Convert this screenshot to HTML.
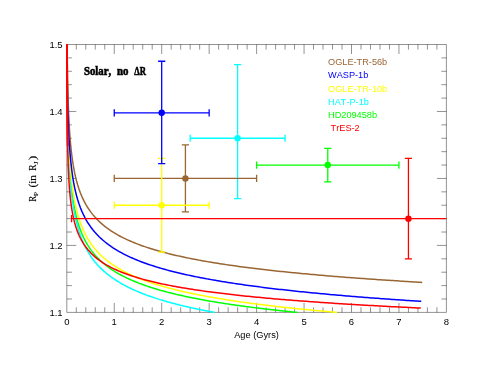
<!DOCTYPE html>
<html><head><meta charset="utf-8"><title>Radius vs Age</title>
<style>html,body{margin:0;padding:0;background:#fff;}svg{display:block;will-change:transform;}text{font-family:"Liberation Sans",sans-serif;font-kerning:none;}.ser text{font-family:"Liberation Serif",serif;}</style></head><body>
<svg width="491" height="379" viewBox="0 0 491 379">
<rect width="491" height="379" fill="#fff"/>
<defs><clipPath id="c"><rect x="63.80" y="43.90" width="382.60" height="270.50"/></clipPath></defs>
<path d="M66.80 44.50H446.40V312.40H66.80ZM76.29 312.40v-5.10M76.29 44.50v5.10M85.78 312.40v-5.10M85.78 44.50v5.10M95.27 312.40v-5.10M95.27 44.50v5.10M104.76 312.40v-5.10M104.76 44.50v5.10M114.25 312.40v-9.50M114.25 44.50v9.50M123.74 312.40v-5.10M123.74 44.50v5.10M133.23 312.40v-5.10M133.23 44.50v5.10M142.72 312.40v-5.10M142.72 44.50v5.10M152.21 312.40v-5.10M152.21 44.50v5.10M161.70 312.40v-9.50M161.70 44.50v9.50M171.19 312.40v-5.10M171.19 44.50v5.10M180.68 312.40v-5.10M180.68 44.50v5.10M190.17 312.40v-5.10M190.17 44.50v5.10M199.66 312.40v-5.10M199.66 44.50v5.10M209.15 312.40v-9.50M209.15 44.50v9.50M218.64 312.40v-5.10M218.64 44.50v5.10M228.13 312.40v-5.10M228.13 44.50v5.10M237.62 312.40v-5.10M237.62 44.50v5.10M247.11 312.40v-5.10M247.11 44.50v5.10M256.60 312.40v-9.50M256.60 44.50v9.50M266.09 312.40v-5.10M266.09 44.50v5.10M275.58 312.40v-5.10M275.58 44.50v5.10M285.07 312.40v-5.10M285.07 44.50v5.10M294.56 312.40v-5.10M294.56 44.50v5.10M304.05 312.40v-9.50M304.05 44.50v9.50M313.54 312.40v-5.10M313.54 44.50v5.10M323.03 312.40v-5.10M323.03 44.50v5.10M332.52 312.40v-5.10M332.52 44.50v5.10M342.01 312.40v-5.10M342.01 44.50v5.10M351.50 312.40v-9.50M351.50 44.50v9.50M360.99 312.40v-5.10M360.99 44.50v5.10M370.48 312.40v-5.10M370.48 44.50v5.10M379.97 312.40v-5.10M379.97 44.50v5.10M389.46 312.40v-5.10M389.46 44.50v5.10M398.95 312.40v-9.50M398.95 44.50v9.50M408.44 312.40v-5.10M408.44 44.50v5.10M417.93 312.40v-5.10M417.93 44.50v5.10M427.42 312.40v-5.10M427.42 44.50v5.10M436.91 312.40v-5.10M436.91 44.50v5.10M66.80 299.00h5.10M446.40 299.00h-5.10M66.80 285.61h5.10M446.40 285.61h-5.10M66.80 272.21h5.10M446.40 272.21h-5.10M66.80 258.82h5.10M446.40 258.82h-5.10M66.80 245.42h9.50M446.40 245.42h-9.50M66.80 232.03h5.10M446.40 232.03h-5.10M66.80 218.63h5.10M446.40 218.63h-5.10M66.80 205.24h5.10M446.40 205.24h-5.10M66.80 191.85h5.10M446.40 191.85h-5.10M66.80 178.45h9.50M446.40 178.45h-9.50M66.80 165.06h5.10M446.40 165.06h-5.10M66.80 151.66h5.10M446.40 151.66h-5.10M66.80 138.27h5.10M446.40 138.27h-5.10M66.80 124.87h5.10M446.40 124.87h-5.10M66.80 111.47h9.50M446.40 111.47h-9.50M66.80 98.08h5.10M446.40 98.08h-5.10M66.80 84.68h5.10M446.40 84.68h-5.10M66.80 71.29h5.10M446.40 71.29h-5.10M66.80 57.90h5.10M446.40 57.90h-5.10" fill="none" stroke="#000" stroke-width="0.65" stroke-opacity="0.66"/>
<text transform="translate(66.80,325.10) scale(1,0.940)" font-size="9.50" text-anchor="middle" fill="#000">0</text>
<text transform="translate(114.25,325.10) scale(1,0.940)" font-size="9.50" text-anchor="middle" fill="#000">1</text>
<text transform="translate(161.70,325.10) scale(1,0.940)" font-size="9.50" text-anchor="middle" fill="#000">2</text>
<text transform="translate(209.15,325.10) scale(1,0.940)" font-size="9.50" text-anchor="middle" fill="#000">3</text>
<text transform="translate(256.60,325.10) scale(1,0.940)" font-size="9.50" text-anchor="middle" fill="#000">4</text>
<text transform="translate(304.05,325.10) scale(1,0.940)" font-size="9.50" text-anchor="middle" fill="#000">5</text>
<text transform="translate(351.50,325.10) scale(1,0.940)" font-size="9.50" text-anchor="middle" fill="#000">6</text>
<text transform="translate(398.95,325.10) scale(1,0.940)" font-size="9.50" text-anchor="middle" fill="#000">7</text>
<text transform="translate(446.40,325.10) scale(1,0.940)" font-size="9.50" text-anchor="middle" fill="#000">8</text>
<text transform="translate(62.60,315.80) scale(1,0.940)" font-size="9.50" text-anchor="end" fill="#000">1.1</text>
<text transform="translate(62.60,248.82) scale(1,0.940)" font-size="9.50" text-anchor="end" fill="#000">1.2</text>
<text transform="translate(62.60,181.85) scale(1,0.940)" font-size="9.50" text-anchor="end" fill="#000">1.3</text>
<text transform="translate(62.60,114.88) scale(1,0.940)" font-size="9.50" text-anchor="end" fill="#000">1.4</text>
<text transform="translate(62.60,47.90) scale(1,0.940)" font-size="9.50" text-anchor="end" fill="#000">1.5</text>
<text transform="translate(256.50,337.50) scale(1,1.000)" font-size="9.25" text-anchor="middle" fill="#000">Age (Gyrs)</text>
<g class="ser" transform="translate(35.5,0) rotate(-90)" fill="#000" stroke="#000" stroke-width="0.15">
<text x="-201.7" y="0" font-size="9.6" textLength="5.9" lengthAdjust="spacingAndGlyphs">R</text>
<text x="-195.9" y="2.1" font-size="6.8" textLength="4.0" lengthAdjust="spacingAndGlyphs">P</text>
<text x="-187.5" y="0" font-size="9.6" textLength="12.4" lengthAdjust="spacingAndGlyphs">(in</text>
<text x="-170.7" y="0" font-size="9.6" textLength="6.3" lengthAdjust="spacingAndGlyphs">R</text>
<text x="-164.3" y="2.1" font-size="6.8" textLength="2.9" lengthAdjust="spacingAndGlyphs">J</text>
<text x="-160.3" y="0" font-size="9.8" textLength="4.6" lengthAdjust="spacingAndGlyphs">)</text>
</g>
<g class="ser" font-size="12.6" font-weight="bold" fill="#000" stroke="#000" stroke-width="0.6">
<text x="83.9" y="74.8" textLength="27.3" lengthAdjust="spacingAndGlyphs">Solar,</text>
<text x="116.9" y="74.8" textLength="11.5" lengthAdjust="spacingAndGlyphs">no</text>
<text x="134.3" y="74.8" textLength="11.7" lengthAdjust="spacingAndGlyphs">ΔR</text>
</g>
<g clip-path="url(#c)" fill="none" stroke-width="1.5" stroke-linejoin="round">
<polyline points="66.80,-2.51 66.80,-2.51 66.80,-2.51 66.80,-2.51 66.80,-2.51 66.80,-2.51 66.80,-2.51 66.80,-2.51 66.80,-2.51 66.80,-2.51 66.80,-2.51 66.80,-2.51 66.80,-2.51 66.80,-2.50 66.80,-2.50 66.80,-2.50 66.80,-2.50 66.80,-2.50 66.80,-2.50 66.80,-2.50 66.80,-2.50 66.80,-2.49 66.80,-2.49 66.80,-2.49 66.80,-2.49 66.80,-2.48 66.80,-2.48 66.80,-2.47 66.80,-2.47 66.80,-2.47 66.80,-2.46 66.80,-2.45 66.80,-2.45 66.80,-2.44 66.80,-2.43 66.80,-2.42 66.80,-2.41 66.80,-2.40 66.80,-2.38 66.80,-2.37 66.80,-2.35 66.80,-2.33 66.80,-2.31 66.80,-2.29 66.80,-2.26 66.80,-2.23 66.80,-2.20 66.80,-2.16 66.80,-2.12 66.80,-2.07 66.80,-2.02 66.80,-1.97 66.80,-1.90 66.80,-1.83 66.80,-1.75 66.80,-1.66 66.80,-1.56 66.80,-1.45 66.80,-1.33 66.80,-1.19 66.80,-1.04 66.80,-0.87 66.80,-0.68 66.81,-0.47 66.81,-0.23 66.81,0.03 66.81,0.32 66.81,0.65 66.81,1.01 66.81,1.41 66.81,1.86 66.81,2.35 66.81,2.90 66.82,3.51 66.82,4.18 66.82,4.92 66.82,5.74 66.82,6.64 66.83,7.63 66.83,8.72 66.83,9.92 66.84,11.24 66.84,12.67 66.85,14.24 66.85,15.94 66.86,17.80 66.87,19.80 66.87,21.97 66.88,24.31 66.89,26.81 66.90,29.50 66.92,32.37 66.93,35.42 66.94,38.65 66.96,42.07 66.98,45.66 67.00,49.44 67.02,53.38 67.05,57.48 67.08,61.74 67.11,66.15 67.15,70.69 67.19,75.36 67.24,80.13 67.29,85.00 67.35,89.96 67.41,95.00 67.48,100.09 67.56,105.23 67.65,110.41 67.75,115.61 67.86,120.82 67.99,126.04 68.12,131.26 68.28,136.46 68.45,141.64 68.65,146.79 68.87,151.91 69.11,156.98 69.38,162.01 69.68,166.99 70.02,171.92 70.40,176.78 70.82,181.59 71.29,186.34 71.82,191.02 72.41,195.64 73.06,200.18 73.80,204.66 74.62,209.07 75.54,213.42 76.56,217.69 77.71,221.89 78.99,226.02 80.42,230.09 82.02,234.08 83.81,238.01 85.80,241.87 88.03,245.66 90.52,249.38 91.83,251.15 93.13,252.81 94.43,254.38 95.73,255.87 97.03,257.28 98.33,258.62 99.63,259.90 100.93,261.12 102.23,262.29 103.54,263.41 104.84,264.49 106.14,265.52 107.44,266.51 108.74,267.47 110.04,268.40 111.34,269.29 112.64,270.15 113.94,270.98 115.25,271.79 116.55,272.57 117.85,273.33 119.15,274.07 120.45,274.78 121.75,275.48 123.05,276.15 124.35,276.81 125.65,277.45 126.96,278.08 128.26,278.69 129.56,279.28 130.86,279.86 132.16,280.43 133.46,280.98 134.76,281.53 136.06,282.05 137.36,282.57 138.67,283.08 139.97,283.58 141.27,284.06 142.57,284.54 143.87,285.00 145.17,285.46 146.47,285.91 147.77,286.35 149.07,286.78 150.38,287.21 151.68,287.62 152.98,288.03 154.28,288.44 155.58,288.83 156.88,289.22 158.18,289.60 159.48,289.98 160.78,290.35 162.09,290.71 163.39,291.07 164.69,291.42 165.99,291.77 167.29,292.11 168.59,292.45 169.89,292.78 171.19,293.10 172.49,293.43 173.80,293.74 175.10,294.06 176.40,294.36 177.70,294.67 179.00,294.97 180.30,295.26 181.60,295.56 182.90,295.84 184.20,296.13 185.51,296.41 186.81,296.69 188.11,296.96 189.41,297.23 190.71,297.50 192.01,297.76 193.31,298.02 194.61,298.28 195.91,298.53 197.22,298.79 198.52,299.03 199.82,299.28 201.12,299.52 202.42,299.76 203.72,300.00 205.02,300.24 206.32,300.47 207.62,300.70 208.93,300.92 210.23,301.15 211.53,301.37 212.83,301.59 214.13,301.81 215.43,302.03 216.73,302.24 218.03,302.45 219.33,302.66 220.64,302.87 221.94,303.07 223.24,303.28 224.54,303.48 225.84,303.68 227.14,303.87 228.44,304.07 229.74,304.26 231.04,304.45 232.34,304.64 233.65,304.83 234.95,305.02 236.25,305.20 237.55,305.39 238.85,305.57 240.15,305.75 241.45,305.93 242.75,306.10 244.05,306.28 245.36,306.45 246.66,306.63 247.96,306.80 249.26,306.97 250.56,307.13 251.86,307.30 253.16,307.47 254.46,307.63 255.76,307.79 257.07,307.95 258.37,308.11 259.67,308.27 260.97,308.43 262.27,308.59 263.57,308.74 264.87,308.90 266.17,309.05 267.47,309.20 268.78,309.35 270.08,309.50 271.38,309.65 272.68,309.80 273.98,309.94 275.28,310.09 276.58,310.23 277.88,310.37 279.18,310.51 280.49,310.66 281.79,310.80 283.09,310.93 284.39,311.07 285.69,311.21 286.99,311.35 288.29,311.48 289.59,311.61 290.89,311.75 292.20,311.88 293.50,312.01 294.80,312.14 296.10,312.27 297.40,312.40" stroke="#00ff00"/>
<polyline points="66.80,64.65 66.80,64.65 66.80,64.65 66.80,64.65 66.80,64.65 66.80,64.65 66.80,64.65 66.80,64.65 66.80,64.65 66.80,64.65 66.80,64.65 66.80,64.65 66.80,64.65 66.80,64.65 66.80,64.65 66.80,64.65 66.80,64.65 66.80,64.65 66.80,64.65 66.80,64.65 66.80,64.65 66.80,64.65 66.80,64.65 66.80,64.65 66.80,64.65 66.80,64.65 66.80,64.66 66.80,64.66 66.80,64.66 66.80,64.66 66.80,64.66 66.80,64.66 66.80,64.67 66.80,64.67 66.80,64.67 66.80,64.67 66.80,64.68 66.80,64.68 66.80,64.69 66.80,64.69 66.80,64.70 66.80,64.70 66.80,64.71 66.80,64.72 66.80,64.72 66.80,64.73 66.80,64.74 66.80,64.76 66.80,64.77 66.80,64.78 66.80,64.80 66.80,64.82 66.80,64.84 66.80,64.86 66.80,64.89 66.80,64.91 66.80,64.95 66.80,64.98 66.80,65.02 66.80,65.06 66.80,65.11 66.80,65.17 66.80,65.23 66.81,65.30 66.81,65.37 66.81,65.46 66.81,65.55 66.81,65.66 66.81,65.77 66.81,65.91 66.81,66.05 66.81,66.21 66.81,66.40 66.82,66.60 66.82,66.82 66.82,67.07 66.82,67.35 66.82,67.66 66.83,68.01 66.83,68.39 66.83,68.81 66.84,69.28 66.84,69.80 66.85,70.38 66.85,71.01 66.86,71.72 66.87,72.49 66.87,73.35 66.88,74.29 66.89,75.32 66.90,76.45 66.92,77.68 66.93,79.03 66.94,80.51 66.96,82.10 66.98,83.84 67.00,85.71 67.02,87.73 67.05,89.91 67.08,92.24 67.11,94.73 67.15,97.38 67.19,100.19 67.24,103.17 67.29,106.30 67.35,109.60 67.41,113.05 67.48,116.64 67.56,120.38 67.65,124.24 67.75,128.24 67.86,132.34 67.99,136.55 68.12,140.85 68.28,145.23 68.45,149.69 68.65,154.20 68.87,158.76 69.11,163.35 69.38,167.98 69.68,172.62 70.02,177.28 70.40,181.93 70.82,186.58 71.29,191.21 71.82,195.82 72.41,200.40 73.06,204.96 73.80,209.47 74.62,213.95 75.54,218.38 76.56,222.76 77.71,227.10 78.99,231.38 80.42,235.61 82.02,239.78 83.81,243.90 85.80,247.96 88.03,251.96 90.52,255.90 91.31,257.04 92.09,258.13 92.87,259.19 93.65,260.22 94.43,261.21 95.21,262.17 95.99,263.10 96.77,264.00 97.55,264.88 98.33,265.73 99.12,266.55 99.90,267.36 100.68,268.14 101.46,268.90 102.24,269.65 103.02,270.37 103.80,271.08 104.58,271.77 105.36,272.44 106.14,273.10 106.93,273.74 107.71,274.37 108.49,274.99 109.27,275.59 110.05,276.18 110.83,276.76 111.61,277.32 112.39,277.88 113.17,278.42 113.95,278.95 114.74,279.48 115.52,279.99 116.30,280.50 117.08,280.99 117.86,281.48 118.64,281.95 119.42,282.42 120.20,282.89 120.98,283.34 121.76,283.79 122.54,284.23 123.33,284.66 124.11,285.08 124.89,285.50 125.67,285.92 126.45,286.32 127.23,286.72 128.01,287.12 128.79,287.50 129.57,287.89 130.35,288.26 131.14,288.64 131.92,289.00 132.70,289.37 133.48,289.72 134.26,290.07 135.04,290.42 135.82,290.77 136.60,291.10 137.38,291.44 138.16,291.77 138.95,292.09 139.73,292.42 140.51,292.73 141.29,293.05 142.07,293.36 142.85,293.66 143.63,293.97 144.41,294.27 145.19,294.56 145.97,294.85 146.76,295.14 147.54,295.43 148.32,295.71 149.10,295.99 149.88,296.27 150.66,296.54 151.44,296.81 152.22,297.08 153.00,297.34 153.78,297.61 154.56,297.87 155.35,298.12 156.13,298.38 156.91,298.63 157.69,298.88 158.47,299.12 159.25,299.37 160.03,299.61 160.81,299.85 161.59,300.09 162.37,300.32 163.16,300.55 163.94,300.79 164.72,301.01 165.50,301.24 166.28,301.46 167.06,301.69 167.84,301.91 168.62,302.13 169.40,302.34 170.18,302.56 170.97,302.77 171.75,302.98 172.53,303.19 173.31,303.40 174.09,303.60 174.87,303.81 175.65,304.01 176.43,304.21 177.21,304.41 177.99,304.60 178.78,304.80 179.56,304.99 180.34,305.19 181.12,305.38 181.90,305.57 182.68,305.75 183.46,305.94 184.24,306.13 185.02,306.31 185.80,306.49 186.58,306.67 187.37,306.85 188.15,307.03 188.93,307.21 189.71,307.38 190.49,307.56 191.27,307.73 192.05,307.90 192.83,308.07 193.61,308.24 194.39,308.41 195.18,308.57 195.96,308.74 196.74,308.90 197.52,309.07 198.30,309.23 199.08,309.39 199.86,309.55 200.64,309.71 201.42,309.87 202.20,310.02 202.99,310.18 203.77,310.34 204.55,310.49 205.33,310.64 206.11,310.79 206.89,310.94 207.67,311.09 208.45,311.24 209.23,311.39 210.01,311.54 210.80,311.68 211.58,311.83 212.36,311.97 213.14,312.12 213.92,312.26 214.70,312.40" stroke="#00ffff"/>
<polyline points="66.80,-4.07 66.80,-4.07 66.80,-4.06 66.80,-4.06 66.80,-4.06 66.80,-4.06 66.80,-4.06 66.80,-4.06 66.80,-4.06 66.80,-4.06 66.80,-4.06 66.80,-4.06 66.80,-4.06 66.80,-4.06 66.80,-4.06 66.80,-4.06 66.80,-4.06 66.80,-4.06 66.80,-4.06 66.80,-4.06 66.80,-4.06 66.80,-4.05 66.80,-4.05 66.80,-4.05 66.80,-4.05 66.80,-4.05 66.80,-4.05 66.80,-4.04 66.80,-4.04 66.80,-4.04 66.80,-4.03 66.80,-4.03 66.80,-4.03 66.80,-4.02 66.80,-4.02 66.80,-4.01 66.80,-4.00 66.80,-4.00 66.80,-3.99 66.80,-3.98 66.80,-3.97 66.80,-3.96 66.80,-3.94 66.80,-3.93 66.80,-3.91 66.80,-3.90 66.80,-3.88 66.80,-3.85 66.80,-3.83 66.80,-3.80 66.80,-3.77 66.80,-3.74 66.80,-3.70 66.80,-3.65 66.80,-3.61 66.80,-3.55 66.80,-3.49 66.80,-3.43 66.80,-3.35 66.80,-3.27 66.80,-3.18 66.80,-3.07 66.80,-2.96 66.81,-2.83 66.81,-2.68 66.81,-2.52 66.81,-2.34 66.81,-2.15 66.81,-1.92 66.81,-1.68 66.81,-1.40 66.81,-1.10 66.81,-0.76 66.82,-0.38 66.82,0.03 66.82,0.50 66.82,1.01 66.82,1.58 66.83,2.20 66.83,2.90 66.83,3.66 66.84,4.51 66.84,5.44 66.85,6.46 66.85,7.57 66.86,8.80 66.87,10.14 66.87,11.60 66.88,13.18 66.89,14.90 66.90,16.77 66.92,18.78 66.93,20.95 66.94,23.27 66.96,25.76 66.98,28.41 67.00,31.22 67.02,34.21 67.05,37.35 67.08,40.66 67.11,44.13 67.15,47.75 67.19,51.52 67.24,55.42 67.29,59.45 67.35,63.60 67.41,67.86 67.48,72.22 67.56,76.66 67.65,81.17 67.75,85.75 67.86,90.38 67.99,95.05 68.12,99.75 68.28,104.47 68.45,109.20 68.65,113.94 68.87,118.66 69.11,123.37 69.38,128.06 69.68,132.72 70.02,137.35 70.40,141.95 70.82,146.49 71.29,151.00 71.82,155.45 72.41,159.85 73.06,164.20 73.80,168.49 74.62,172.72 75.54,176.90 76.56,181.01 77.71,185.06 78.99,189.05 80.42,192.97 82.02,196.84 83.81,200.64 85.80,204.38 88.03,208.05 90.52,211.66 92.61,214.37 94.70,216.83 96.78,219.09 98.87,221.17 100.96,223.10 103.04,224.90 105.13,226.58 107.21,228.16 109.30,229.65 111.39,231.05 113.47,232.38 115.56,233.64 117.64,234.85 119.73,235.99 121.82,237.09 123.90,238.13 125.99,239.14 128.07,240.10 130.16,241.03 132.25,241.92 134.33,242.78 136.42,243.61 138.50,244.41 140.59,245.18 142.68,245.93 144.76,246.65 146.85,247.35 148.93,248.04 151.02,248.70 153.11,249.34 155.19,249.96 157.28,250.57 159.36,251.16 161.45,251.74 163.54,252.30 165.62,252.85 167.71,253.38 169.79,253.91 171.88,254.42 173.97,254.91 176.05,255.40 178.14,255.88 180.22,256.34 182.31,256.80 184.40,257.24 186.48,257.68 188.57,258.11 190.65,258.53 192.74,258.94 194.83,259.35 196.91,259.74 199.00,260.13 201.08,260.51 203.17,260.89 205.26,261.26 207.34,261.62 209.43,261.97 211.51,262.32 213.60,262.67 215.69,263.01 217.77,263.34 219.86,263.67 221.94,263.99 224.03,264.31 226.12,264.62 228.20,264.93 230.29,265.23 232.37,265.53 234.46,265.82 236.55,266.11 238.63,266.40 240.72,266.68 242.80,266.96 244.89,267.23 246.98,267.50 249.06,267.77 251.15,268.03 253.23,268.29 255.32,268.55 257.41,268.80 259.49,269.05 261.58,269.30 263.66,269.54 265.75,269.78 267.84,270.02 269.92,270.26 272.01,270.49 274.09,270.72 276.18,270.94 278.27,271.17 280.35,271.39 282.44,271.61 284.52,271.82 286.61,272.04 288.70,272.25 290.78,272.46 292.87,272.67 294.95,272.87 297.04,273.07 299.13,273.28 301.21,273.47 303.30,273.67 305.38,273.86 307.47,274.06 309.56,274.25 311.64,274.44 313.73,274.62 315.81,274.81 317.90,274.99 319.99,275.17 322.07,275.35 324.16,275.53 326.24,275.71 328.33,275.88 330.42,276.05 332.50,276.23 334.59,276.40 336.67,276.56 338.76,276.73 340.85,276.90 342.93,277.06 345.02,277.22 347.10,277.38 349.19,277.54 351.28,277.70 353.36,277.86 355.45,278.01 357.53,278.17 359.62,278.32 361.71,278.47 363.79,278.62 365.88,278.77 367.96,278.92 370.05,279.07 372.14,279.21 374.22,279.36 376.31,279.50 378.39,279.64 380.48,279.78 382.57,279.92 384.65,280.06 386.74,280.20 388.82,280.34 390.91,280.47 393.00,280.61 395.08,280.74 397.17,280.87 399.25,281.01 401.34,281.14 403.43,281.27 405.51,281.40 407.60,281.52 409.68,281.65 411.77,281.78 413.86,281.90 415.94,282.03 418.03,282.15 420.11,282.27 422.20,282.40" stroke="#996633"/>
<polyline points="66.80,6.46 66.80,6.46 66.80,6.46 66.80,6.46 66.80,6.46 66.80,6.46 66.80,6.46 66.80,6.46 66.80,6.46 66.80,6.46 66.80,6.46 66.80,6.46 66.80,6.46 66.80,6.46 66.80,6.46 66.80,6.46 66.80,6.46 66.80,6.46 66.80,6.46 66.80,6.47 66.80,6.47 66.80,6.47 66.80,6.47 66.80,6.47 66.80,6.47 66.80,6.48 66.80,6.48 66.80,6.48 66.80,6.48 66.80,6.49 66.80,6.49 66.80,6.50 66.80,6.50 66.80,6.51 66.80,6.51 66.80,6.52 66.80,6.52 66.80,6.53 66.80,6.54 66.80,6.55 66.80,6.56 66.80,6.58 66.80,6.59 66.80,6.61 66.80,6.62 66.80,6.64 66.80,6.67 66.80,6.69 66.80,6.72 66.80,6.75 66.80,6.78 66.80,6.82 66.80,6.86 66.80,6.91 66.80,6.97 66.80,7.03 66.80,7.09 66.80,7.17 66.80,7.25 66.80,7.34 66.80,7.45 66.80,7.56 66.80,7.69 66.81,7.83 66.81,7.99 66.81,8.17 66.81,8.37 66.81,8.59 66.81,8.84 66.81,9.11 66.81,9.41 66.81,9.75 66.81,10.13 66.82,10.55 66.82,11.01 66.82,11.52 66.82,12.09 66.82,12.72 66.83,13.42 66.83,14.19 66.83,15.04 66.84,15.98 66.84,17.01 66.85,18.14 66.85,19.38 66.86,20.74 66.87,22.23 66.87,23.85 66.88,25.61 66.89,27.52 66.90,29.58 66.92,31.81 66.93,34.22 66.94,36.79 66.96,39.55 66.98,42.48 67.00,45.60 67.02,48.90 67.05,52.38 67.08,56.05 67.11,59.88 67.15,63.88 67.19,68.04 67.24,72.35 67.29,76.80 67.35,81.38 67.41,86.08 67.48,90.88 67.56,95.77 67.65,100.74 67.75,105.78 67.86,110.87 67.99,116.00 68.12,121.17 68.28,126.35 68.45,131.54 68.65,136.72 68.87,141.90 69.11,147.06 69.38,152.19 69.68,157.28 70.02,162.34 70.40,167.35 70.82,172.32 71.29,177.22 71.82,182.08 72.41,186.87 73.06,191.60 73.80,196.26 74.62,200.86 75.54,205.39 76.56,209.84 77.71,214.23 78.99,218.55 80.42,222.80 82.02,226.98 83.81,231.08 85.80,235.12 88.03,239.08 90.52,242.98 92.08,245.17 93.63,247.21 95.18,249.12 96.73,250.91 98.28,252.59 99.83,254.18 101.38,255.69 102.93,257.12 104.48,258.48 106.03,259.77 107.58,261.01 109.13,262.19 110.69,263.33 112.24,264.41 113.79,265.46 115.34,266.47 116.89,267.43 118.44,268.37 119.99,269.27 121.54,270.14 123.09,270.99 124.64,271.80 126.19,272.59 127.74,273.36 129.29,274.11 130.85,274.83 132.40,275.53 133.95,276.22 135.50,276.88 137.05,277.53 138.60,278.17 140.15,278.78 141.70,279.38 143.25,279.97 144.80,280.54 146.35,281.10 147.90,281.65 149.45,282.19 151.01,282.71 152.56,283.22 154.11,283.72 155.66,284.21 157.21,284.70 158.76,285.17 160.31,285.63 161.86,286.08 163.41,286.53 164.96,286.96 166.51,287.39 168.06,287.81 169.62,288.23 171.17,288.63 172.72,289.03 174.27,289.42 175.82,289.81 177.37,290.19 178.92,290.56 180.47,290.93 182.02,291.29 183.57,291.65 185.12,292.00 186.67,292.34 188.22,292.68 189.78,293.02 191.33,293.35 192.88,293.67 194.43,293.99 195.98,294.31 197.53,294.62 199.08,294.93 200.63,295.23 202.18,295.53 203.73,295.82 205.28,296.11 206.83,296.40 208.38,296.68 209.94,296.96 211.49,297.24 213.04,297.51 214.59,297.78 216.14,298.05 217.69,298.31 219.24,298.57 220.79,298.83 222.34,299.08 223.89,299.33 225.44,299.58 226.99,299.82 228.54,300.06 230.10,300.30 231.65,300.54 233.20,300.78 234.75,301.01 236.30,301.24 237.85,301.46 239.40,301.69 240.95,301.91 242.50,302.13 244.05,302.35 245.60,302.56 247.15,302.77 248.71,302.98 250.26,303.19 251.81,303.40 253.36,303.60 254.91,303.81 256.46,304.01 258.01,304.21 259.56,304.40 261.11,304.60 262.66,304.79 264.21,304.98 265.76,305.17 267.31,305.36 268.87,305.55 270.42,305.73 271.97,305.91 273.52,306.10 275.07,306.28 276.62,306.45 278.17,306.63 279.72,306.81 281.27,306.98 282.82,307.15 284.37,307.32 285.92,307.49 287.47,307.66 289.03,307.83 290.58,307.99 292.13,308.15 293.68,308.32 295.23,308.48 296.78,308.64 298.33,308.80 299.88,308.95 301.43,309.11 302.98,309.27 304.53,309.42 306.08,309.57 307.64,309.72 309.19,309.87 310.74,310.02 312.29,310.17 313.84,310.32 315.39,310.46 316.94,310.61 318.49,310.75 320.04,310.89 321.59,311.04 323.14,311.18 324.69,311.32 326.24,311.46 327.80,311.59 329.35,311.73 330.90,311.87 332.45,312.00 334.00,312.13 335.55,312.27 337.10,312.40" stroke="#ffff00"/>
<polyline points="66.80,28.06 66.80,28.06 66.80,28.06 66.80,28.06 66.80,28.06 66.80,28.06 66.80,28.06 66.80,28.06 66.80,28.06 66.80,28.06 66.80,28.06 66.80,28.06 66.80,28.06 66.80,28.06 66.80,28.06 66.80,28.06 66.80,28.06 66.80,28.06 66.80,28.06 66.80,28.06 66.80,28.06 66.80,28.07 66.80,28.07 66.80,28.07 66.80,28.07 66.80,28.07 66.80,28.07 66.80,28.07 66.80,28.08 66.80,28.08 66.80,28.08 66.80,28.08 66.80,28.09 66.80,28.09 66.80,28.10 66.80,28.10 66.80,28.10 66.80,28.11 66.80,28.12 66.80,28.12 66.80,28.13 66.80,28.14 66.80,28.15 66.80,28.16 66.80,28.17 66.80,28.19 66.80,28.20 66.80,28.22 66.80,28.24 66.80,28.26 66.80,28.28 66.80,28.31 66.80,28.34 66.80,28.37 66.80,28.41 66.80,28.45 66.80,28.50 66.80,28.55 66.80,28.61 66.80,28.67 66.80,28.74 66.80,28.83 66.80,28.91 66.81,29.01 66.81,29.13 66.81,29.25 66.81,29.39 66.81,29.54 66.81,29.71 66.81,29.91 66.81,30.12 66.81,30.36 66.81,30.62 66.82,30.91 66.82,31.24 66.82,31.60 66.82,32.00 66.82,32.44 66.83,32.94 66.83,33.48 66.83,34.08 66.84,34.75 66.84,35.48 66.85,36.29 66.85,37.18 66.86,38.15 66.87,39.22 66.87,40.39 66.88,41.67 66.89,43.06 66.90,44.57 66.92,46.21 66.93,47.98 66.94,49.89 66.96,51.94 66.98,54.15 67.00,56.50 67.02,59.01 67.05,61.67 67.08,64.48 67.11,67.45 67.15,70.57 67.19,73.83 67.24,77.24 67.29,80.78 67.35,84.45 67.41,88.23 67.48,92.13 67.56,96.13 67.65,100.22 67.75,104.39 67.86,108.63 67.99,112.94 68.12,117.29 68.28,121.68 68.45,126.11 68.65,130.56 68.87,135.03 69.11,139.50 69.38,143.97 69.68,148.43 70.02,152.88 70.40,157.32 70.82,161.73 71.29,166.11 71.82,170.46 72.41,174.77 73.06,179.05 73.80,183.28 74.62,187.47 75.54,191.62 76.56,195.72 77.71,199.77 78.99,203.77 80.42,207.72 82.02,211.62 83.81,215.47 85.80,219.27 88.03,223.01 90.52,226.70 92.61,229.46 94.69,231.98 96.77,234.30 98.85,236.44 100.93,238.43 103.01,240.28 105.09,242.02 107.17,243.66 109.25,245.20 111.33,246.66 113.41,248.04 115.49,249.35 117.57,250.61 119.65,251.80 121.73,252.94 123.81,254.04 125.89,255.09 127.97,256.10 130.05,257.07 132.13,258.00 134.21,258.90 136.29,259.77 138.37,260.61 140.45,261.43 142.53,262.21 144.61,262.98 146.69,263.72 148.77,264.44 150.85,265.14 152.93,265.82 155.01,266.48 157.09,267.12 159.17,267.75 161.25,268.36 163.33,268.95 165.41,269.53 167.49,270.10 169.57,270.65 171.65,271.19 173.73,271.72 175.81,272.24 177.89,272.75 179.97,273.24 182.05,273.73 184.13,274.20 186.21,274.67 188.29,275.13 190.37,275.57 192.45,276.01 194.53,276.44 196.61,276.87 198.69,277.28 200.77,277.69 202.85,278.09 204.93,278.49 207.01,278.87 209.09,279.25 211.17,279.63 213.25,280.00 215.33,280.36 217.41,280.72 219.49,281.07 221.57,281.41 223.65,281.75 225.73,282.09 227.81,282.42 229.89,282.74 231.97,283.06 234.05,283.38 236.13,283.69 238.21,284.00 240.29,284.30 242.37,284.60 244.45,284.90 246.53,285.19 248.61,285.48 250.69,285.76 252.77,286.04 254.85,286.32 256.93,286.59 259.01,286.86 261.09,287.12 263.17,287.39 265.25,287.65 267.33,287.90 269.41,288.16 271.49,288.41 273.57,288.66 275.65,288.90 277.73,289.14 279.81,289.38 281.89,289.62 283.97,289.85 286.05,290.08 288.13,290.31 290.21,290.54 292.29,290.77 294.37,290.99 296.45,291.21 298.53,291.42 300.61,291.64 302.69,291.85 304.77,292.06 306.85,292.27 308.93,292.48 311.01,292.68 313.09,292.89 315.17,293.09 317.25,293.29 319.33,293.48 321.41,293.68 323.49,293.87 325.57,294.06 327.65,294.25 329.73,294.44 331.81,294.63 333.89,294.81 335.97,294.99 338.05,295.18 340.13,295.36 342.21,295.53 344.29,295.71 346.37,295.89 348.45,296.06 350.53,296.23 352.61,296.40 354.69,296.57 356.77,296.74 358.85,296.91 360.93,297.07 363.01,297.24 365.09,297.40 367.17,297.56 369.25,297.72 371.33,297.88 373.41,298.04 375.49,298.19 377.57,298.35 379.65,298.50 381.73,298.66 383.81,298.81 385.89,298.96 387.97,299.11 390.05,299.26 392.13,299.40 394.21,299.55 396.29,299.69 398.37,299.84 400.45,299.98 402.53,300.12 404.61,300.27 406.69,300.41 408.77,300.54 410.85,300.68 412.93,300.82 415.01,300.96 417.09,301.09 419.17,301.23 421.25,301.36" stroke="#0000ff"/>
<polyline points="66.80,-298.70 66.80,-287.07 66.80,-275.63 66.80,-264.38 66.80,-253.31 66.80,-242.41 66.80,-231.70 66.80,-221.15 66.80,-210.77 66.80,-200.57 66.80,-190.52 66.80,-180.64 66.80,-170.92 66.81,-161.36 66.81,-151.94 66.81,-142.69 66.81,-133.58 66.81,-124.61 66.81,-115.79 66.81,-107.12 66.81,-98.58 66.81,-90.18 66.81,-81.92 66.82,-73.79 66.82,-65.79 66.82,-57.92 66.82,-50.18 66.82,-42.56 66.83,-35.06 66.83,-27.69 66.83,-20.43 66.84,-13.29 66.84,-6.27 66.85,0.64 66.85,7.44 66.86,14.13 66.87,20.71 66.87,27.18 66.88,33.55 66.89,39.82 66.90,45.99 66.92,52.06 66.93,58.03 66.94,63.90 66.96,69.68 66.98,75.36 67.00,80.96 67.02,86.46 67.05,91.88 67.08,97.20 67.11,102.44 67.15,107.60 67.19,112.68 67.24,117.67 67.29,122.58 67.35,127.41 67.41,132.17 67.48,136.84 67.56,141.45 67.65,145.97 67.75,150.43 67.86,154.81 67.99,159.13 68.12,163.37 68.28,167.54 68.45,171.65 68.65,175.69 68.87,179.67 69.11,183.58 69.38,187.43 69.68,191.21 70.02,194.94 70.40,198.61 70.82,202.21 71.29,205.76 71.82,209.25 72.41,212.69 73.06,216.07 73.80,219.39 74.62,222.66 75.54,225.88 76.56,229.05 77.71,232.16 78.99,235.23 80.42,238.24 82.02,241.21 83.81,244.13 85.80,247.00 88.03,249.83 90.52,252.61 92.60,254.68 94.68,256.57 96.76,258.31 98.83,259.91 100.91,261.40 102.99,262.78 105.06,264.08 107.14,265.30 109.22,266.45 111.30,267.54 113.37,268.57 115.45,269.55 117.53,270.48 119.60,271.37 121.68,272.22 123.76,273.04 125.83,273.82 127.91,274.57 129.99,275.29 132.07,275.98 134.14,276.65 136.22,277.30 138.30,277.92 140.37,278.53 142.45,279.11 144.53,279.68 146.61,280.23 148.68,280.76 150.76,281.28 152.84,281.79 154.91,282.28 156.99,282.75 159.07,283.22 161.14,283.67 163.22,284.11 165.30,284.54 167.38,284.96 169.45,285.37 171.53,285.77 173.61,286.17 175.68,286.55 177.76,286.92 179.84,287.29 181.92,287.65 183.99,288.00 186.07,288.35 188.15,288.69 190.22,289.02 192.30,289.34 194.38,289.66 196.45,289.98 198.53,290.28 200.61,290.59 202.69,290.88 204.76,291.17 206.84,291.46 208.92,291.74 210.99,292.02 213.07,292.29 215.15,292.56 217.23,292.82 219.30,293.08 221.38,293.34 223.46,293.59 225.53,293.84 227.61,294.08 229.69,294.32 231.76,294.56 233.84,294.80 235.92,295.03 238.00,295.25 240.07,295.48 242.15,295.70 244.23,295.92 246.30,296.13 248.38,296.34 250.46,296.55 252.54,296.76 254.61,296.97 256.69,297.17 258.77,297.37 260.84,297.56 262.92,297.76 265.00,297.95 267.07,298.14 269.15,298.33 271.23,298.51 273.31,298.69 275.38,298.88 277.46,299.05 279.54,299.23 281.61,299.41 283.69,299.58 285.77,299.75 287.85,299.92 289.92,300.09 292.00,300.25 294.08,300.42 296.15,300.58 298.23,300.74 300.31,300.90 302.38,301.06 304.46,301.21 306.54,301.37 308.62,301.52 310.69,301.67 312.77,301.82 314.85,301.97 316.92,302.12 319.00,302.26 321.08,302.40 323.16,302.55 325.23,302.69 327.31,302.83 329.39,302.97 331.46,303.11 333.54,303.24 335.62,303.38 337.69,303.51 339.77,303.64 341.85,303.78 343.93,303.91 346.00,304.04 348.08,304.16 350.16,304.29 352.23,304.42 354.31,304.54 356.39,304.67 358.47,304.79 360.54,304.91 362.62,305.03 364.70,305.15 366.77,305.27 368.85,305.39 370.93,305.51 373.00,305.62 375.08,305.74 377.16,305.85 379.24,305.97 381.31,306.08 383.39,306.19 385.47,306.30 387.54,306.41 389.62,306.52 391.70,306.63 393.78,306.74 395.85,306.85 397.93,306.95 400.01,307.06 402.08,307.16 404.16,307.27 406.24,307.37 408.31,307.47 410.39,307.58 412.47,307.68 414.55,307.78 416.62,307.88 418.70,307.98 420.78,308.07" stroke="#ff0000"/>
<polyline points="66.92,-298.70 66.92,-287.07 66.92,-275.63 66.92,-264.38 66.92,-253.31 66.92,-242.41 66.92,-231.70 66.92,-221.15 66.92,-210.77 66.92,-200.57 66.92,-190.52 66.92,-180.64 66.92,-170.92 66.93,-161.36 66.93,-151.94 66.93,-142.69 66.93,-133.58 66.93,-124.61 66.93,-115.79 66.93,-107.12 66.93,-98.58 66.93,-90.18 66.93,-81.92 66.94,-73.79 66.94,-65.79 66.94,-57.92 66.94,-50.18 66.94,-42.56 66.95,-35.06 66.95,-27.69 66.95,-20.43 66.96,-13.29 66.96,-6.27 66.97,0.64 66.97,7.44 66.98,14.13 66.99,20.71 66.99,27.18 67.00,33.55 67.01,39.82 67.02,45.99 67.04,52.06 67.05,58.03 67.06,63.90 67.08,69.68 67.10,75.36 67.12,80.96 67.14,86.46 67.17,91.88 67.20,97.20 67.23,102.44 67.27,107.60 67.31,112.68 67.36,117.67 67.41,122.58 67.47,127.41 67.53,132.17 67.60,136.84 67.68,141.45 67.77,145.97" stroke="#ff0000" stroke-width="1.95"/>
</g>
<g clip-path="url(#c)" fill="none" stroke-width="1.3">
<path d="M256.60 165.06H398.95M256.60 161.46v7.20M398.95 161.46v7.20M327.77 181.80V148.31M324.17 181.80h7.20M324.17 148.31h7.20" stroke="#00ff00"/>
<circle cx="327.77" cy="165.06" r="3.2" fill="#00ff00" stroke="none"/>
<path d="M190.17 138.27H285.07M190.17 134.67v7.20M285.07 134.67v7.20M237.62 198.54V64.59M234.02 198.54h7.20M234.02 64.59h7.20" stroke="#00ffff"/>
<circle cx="237.62" cy="138.27" r="3.2" fill="#00ffff" stroke="none"/>
<path d="M114.25 178.45H256.60M114.25 174.85v7.20M256.60 174.85v7.20M185.42 211.94V144.96M181.82 211.94h7.20M181.82 144.96h7.20" stroke="#996633"/>
<circle cx="185.42" cy="178.45" r="3.2" fill="#996633" stroke="none"/>
<path d="M114.25 205.24H209.15M114.25 201.64v7.20M209.15 201.64v7.20M161.70 252.12V158.36M158.10 252.12h7.20M158.10 158.36h7.20" stroke="#ffff00"/>
<circle cx="161.70" cy="205.24" r="3.2" fill="#ffff00" stroke="none"/>
<path d="M114.25 112.81H209.15M114.25 109.21v7.20M209.15 109.21v7.20M161.70 163.72V61.24M158.10 163.72h7.20M158.10 61.24h7.20" stroke="#0000ff"/>
<circle cx="161.70" cy="112.81" r="3.2" fill="#0000ff" stroke="none"/>
<path d="M71.55 218.64H493.85M71.55 215.04v7.20M493.85 215.04v7.20M408.44 258.82V158.36M404.84 258.82h7.20M404.84 158.36h7.20" stroke="#ff0000"/>
<circle cx="408.44" cy="218.64" r="3.2" fill="#ff0000" stroke="none"/>
</g>
<text transform="translate(328.00,65.20) scale(1,1.070)" font-size="9.20" text-anchor="start" fill="#996633">OGLE-TR-56b</text>
<text transform="translate(328.00,78.37) scale(1,1.070)" font-size="9.20" text-anchor="start" fill="#0000ff">WASP-1b</text>
<text transform="translate(328.00,91.54) scale(1,1.070)" font-size="9.20" text-anchor="start" fill="#ffff00">OGLE-TR-10b</text>
<text transform="translate(328.00,104.71) scale(1,1.070)" font-size="9.20" text-anchor="start" fill="#00ffff">HAT-P-1b</text>
<text transform="translate(328.00,117.88) scale(1,1.070)" font-size="9.20" text-anchor="start" fill="#00ff00">HD209458b</text>
<text transform="translate(330.60,131.05) scale(1,1.070)" font-size="9.20" text-anchor="start" fill="#ff0000">TrES-2</text>
</svg></body></html>
